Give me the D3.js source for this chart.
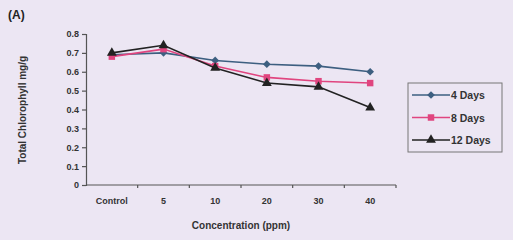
<!DOCTYPE html>
<html><head><meta charset="utf-8">
<script src="https://cdn.jsdelivr.net/npm/d3@7"></script>
<style>
body{margin:0;background:#ece6f3;}
svg{display:block;font-family:Arial,"Liberation Sans",sans-serif;}
</style></head><body>
<svg id="c" width="513" height="240"></svg>
<script>
const categories = ["Control","5","10","20","30","40"];
const days4  = [0.69,0.70,0.66,0.64,0.63,0.60];
const days8  = [0.68,0.72,0.63,0.57,0.55,0.54];
const days12 = [0.70,0.74,0.62,0.54,0.52,0.41];
const seriesNames = ["4 Days","8 Days","12 Days"];
const yTicks = [0,0.1,0.2,0.3,0.4,0.5,0.6,0.7,0.8];

const series = [
  {name:seriesNames[0], values:days4,  color:"#3d5f80", shape:"diamond"},
  {name:seriesNames[1], values:days8,  color:"#e0457f", shape:"square"},
  {name:seriesNames[2], values:days12, color:"#222222", shape:"triangle"}
];

const svg = d3.select("#c");
const tc = "#333";
const x = d3.scaleBand().domain(categories).range([86,396]);
const y = d3.scaleLinear().domain([0,0.8]).range([185,34]);

const ya = svg.append("g").attr("transform","translate(86,0)")
  .call(d3.axisLeft(y).tickValues(yTicks).tickSize(4).tickPadding(3)
    .tickFormat(d=> d===0 ? "0" : d3.format(".1f")(d)));
const xa = svg.append("g").attr("transform","translate(0,185)")
  .call(d3.axisBottom(x).tickSize(0).tickPadding(13));
[ya,xa].forEach(a=>{
  a.selectAll("path,line").attr("stroke","#555").attr("stroke-width",1.2);
  a.selectAll("text").attr("fill",tc).attr("font-size",9).attr("font-weight","bold");
});
xa.select(".domain").attr("d","M86,0H396");
xa.selectAll(".sep").data(categories).enter().append("line")
  .attr("x1",d=>x(d)+x.bandwidth()).attr("x2",d=>x(d)+x.bandwidth())
  .attr("y1",0).attr("y2",3).attr("stroke","#555").attr("stroke-width",1.2);

const cx = d=>x(d)+x.bandwidth()/2;
const sym = {
  diamond: d3.symbol().type(d3.symbolSquare).size(30),
  square: d3.symbol().type(d3.symbolSquare).size(42),
  triangle: d3.symbol().type(d3.symbolTriangle).size(42)
};
const rot = s => s==="diamond" ? " rotate(45)" : "";

const line = d3.line().x((d,i)=>cx(categories[i])).y(d=>y(d));
series.forEach(s=>{
  svg.append("path").attr("d",line(s.values)).attr("fill","none")
    .attr("stroke",s.color).attr("stroke-width",1.6);
  svg.selectAll(null).data(s.values).enter().append("path")
    .attr("d",sym[s.shape])
    .attr("transform",(d,i)=>`translate(${cx(categories[i])},${y(d)})${rot(s.shape)}`)
    .attr("fill",s.color);
});

svg.append("rect").attr("x",408).attr("y",83).attr("width",94).attr("height",69)
  .attr("fill","none").attr("stroke","#777").attr("stroke-width",1);
series.forEach((s,i)=>{
  const ly = 95 + i*22.5;
  svg.append("line").attr("x1",412).attr("x2",450).attr("y1",ly).attr("y2",ly)
    .attr("stroke",s.color).attr("stroke-width",1.6);
  svg.append("path").attr("d",sym[s.shape]).attr("transform",`translate(431,${ly})${rot(s.shape)}`).attr("fill",s.color);
  svg.append("text").attr("x",451).attr("y",ly+4).text(s.name)
    .attr("font-size",10.5).attr("font-weight","bold").attr("fill",tc);
});

svg.append("text").attr("x",8).attr("y",19).text("(A)")
  .attr("font-size",12).attr("font-weight","bold").attr("fill","#222");
svg.append("text").attr("transform","translate(26,110) rotate(-90)")
  .attr("text-anchor","middle").text("Total Chlorophyll mg/g")
  .attr("font-size",10).attr("font-weight","bold").attr("fill",tc);
svg.append("text").attr("x",241).attr("y",229).attr("text-anchor","middle")
  .text("Concentration (ppm)").attr("font-size",10).attr("font-weight","bold").attr("fill",tc);
</script></body></html>
